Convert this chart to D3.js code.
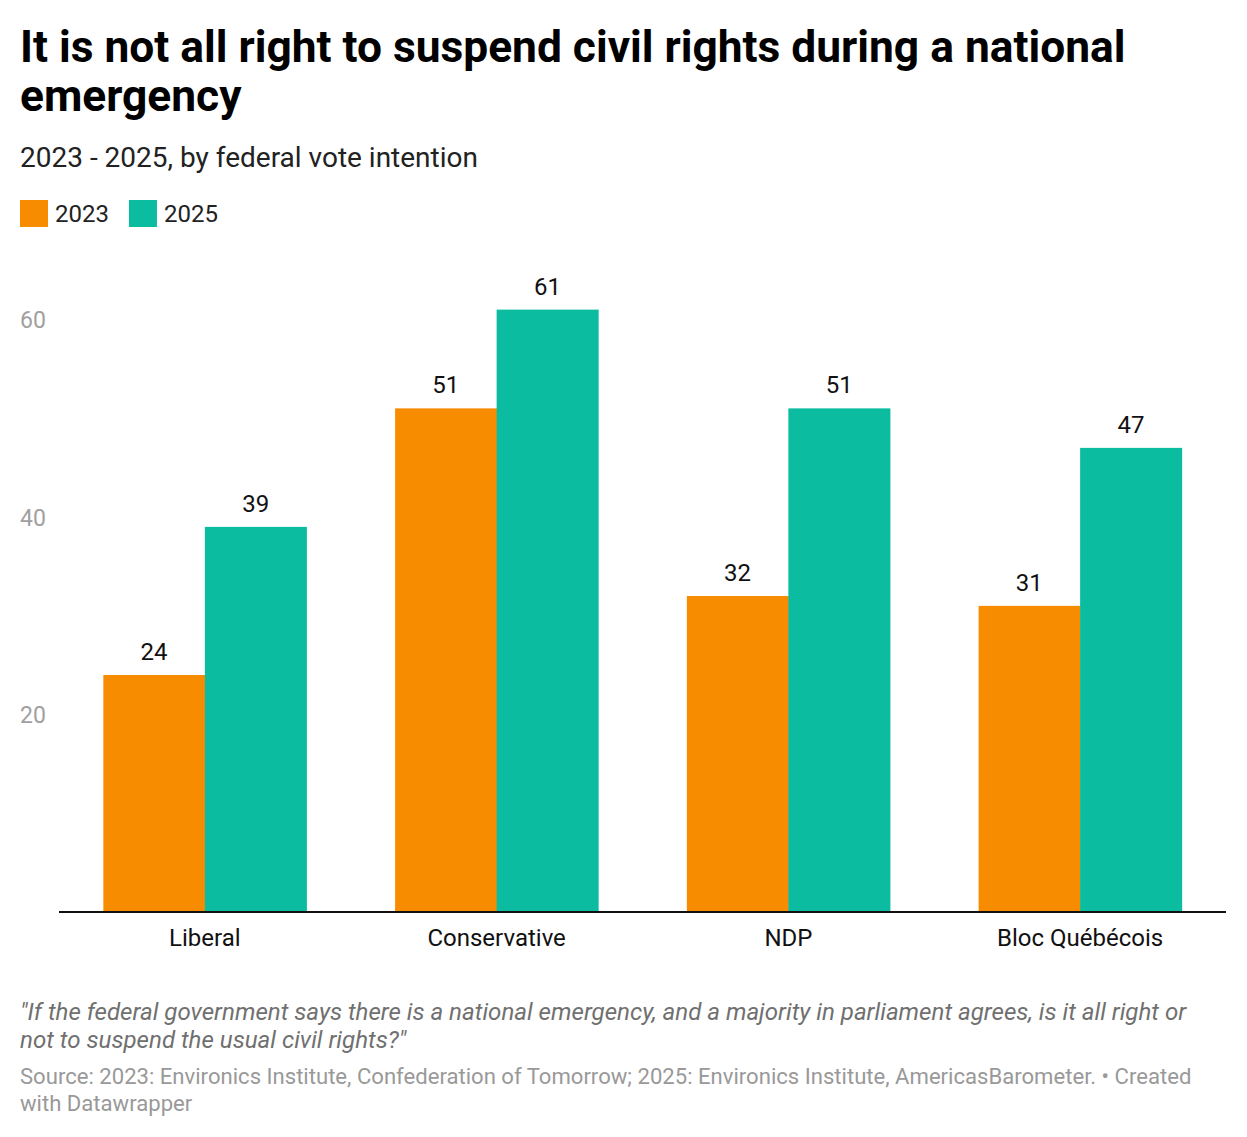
<!DOCTYPE html>
<html><head><meta charset="utf-8">
<script src="https://cdn.jsdelivr.net/npm/d3@7"></script>
<style>body{margin:0;background:#fff;font-family:Roboto,"Noto Sans",sans-serif;}</style>
</head><body><svg id="c" width="1247" height="1137"></svg>
<script>
const categories = ["Liberal","Conservative","NDP","Bloc Québécois"];
const seriesNames = ["2023","2025"];
const values2023 = [24,51,32,31];
const values2025 = [39,61,51,47];
const yTicks = [20,40,60];
const colors = ["#f78c00","#0bbca0"];

const svg = d3.select("#c");
const W=1247;
svg.append("rect").attr("width",W).attr("height",1137).attr("fill","#fff");

const title = ["It is not all right to suspend civil rights during a national","emergency"];
svg.append("g").selectAll("text").data(title).join("text")
  .attr("x",20).attr("y",(d,i)=>62+i*49).attr("font-size",44.3).attr("font-weight",700)
  .attr("fill","#000").text(d=>d);
svg.append("text").attr("x",20).attr("y",167).attr("font-size",28).attr("fill","#222")
  .text("2023 - 2025, by federal vote intention");

const leg = svg.append("g");
let lx=20;
seriesNames.forEach((s,i)=>{
  leg.append("rect").attr("x",lx).attr("y",200).attr("width",28).attr("height",27).attr("fill",colors[i]);
  const t=leg.append("text").attr("x",lx+35).attr("y",222).attr("font-size",24).attr("fill","#222").text(s);
  lx += 35 + t.node().getComputedTextLength() + 20;
});

const x0 = d3.scaleBand().domain(categories).range([59,1226]).paddingInner(0.304).paddingOuter(0.152);
const x1 = d3.scaleBand().domain(seriesNames).range([0,x0.bandwidth()]);
const y = d3.scaleLinear().domain([0,60]).range([912,319.5]);

const yAxis = svg.append("g").attr("transform","translate(20,0)")
  .call(d3.axisLeft(y).tickValues(yTicks).tickSize(0).tickFormat(d3.format("d")));
yAxis.select(".domain").remove();
yAxis.selectAll("text").attr("x",0).attr("text-anchor","start").attr("font-size",23)
  .attr("fill","#a0a0a0").attr("font-family","Roboto").attr("dy","0.35em");

const data = categories.map((c,i)=>({cat:c, vals:[values2023[i],values2025[i]]}));
const g = svg.append("g").selectAll("g").data(data).join("g")
  .attr("transform",d=>`translate(${x0(d.cat)},0)`);
g.selectAll("rect").data(d=>d.vals.map((v,i)=>({s:seriesNames[i],v,i}))).join("rect")
  .attr("x",d=>x1(d.s)).attr("width",x1.bandwidth()+0.5).attr("y",d=>y(d.v))
  .attr("height",d=>y(0)-y(d.v)).attr("fill",d=>colors[d.i]);
g.selectAll("text").data(d=>d.vals.map((v,i)=>({s:seriesNames[i],v,i}))).join("text")
  .attr("x",d=>x1(d.s)+x1.bandwidth()/2).attr("y",d=>y(d.v)-15)
  .attr("text-anchor","middle").attr("font-size",24).attr("fill","#111").text(d=>d.v);

const xAxis = svg.append("g").attr("transform","translate(0,912)")
  .call(d3.axisBottom(x0).tickSize(0).tickPadding(17));
xAxis.select(".domain").attr("stroke","#111").attr("stroke-width",2).attr("d","M59,0H1226");
xAxis.selectAll("text").attr("font-size",24).attr("fill","#111").attr("font-family","Roboto");

const notes = ["\"If the federal government says there is a national emergency, and a majority in parliament agrees, is it all right or","not to suspend the usual civil rights?\""];
svg.append("g").selectAll("text").data(notes).join("text")
  .attr("x",20).attr("y",(d,i)=>1020+i*28).attr("font-size",24.1).attr("font-style","italic")
  .attr("fill","#707070").text(d=>d);
const src = ["Source: 2023: Environics Institute, Confederation of Tomorrow; 2025: Environics Institute, AmericasBarometer. • Created","with Datawrapper"];
svg.append("g").selectAll("text").data(src).join("text")
  .attr("x",20).attr("y",(d,i)=>1084+i*27).attr("font-size",22.1)
  .attr("fill","#999").text(d=>d);
</script></body></html>
